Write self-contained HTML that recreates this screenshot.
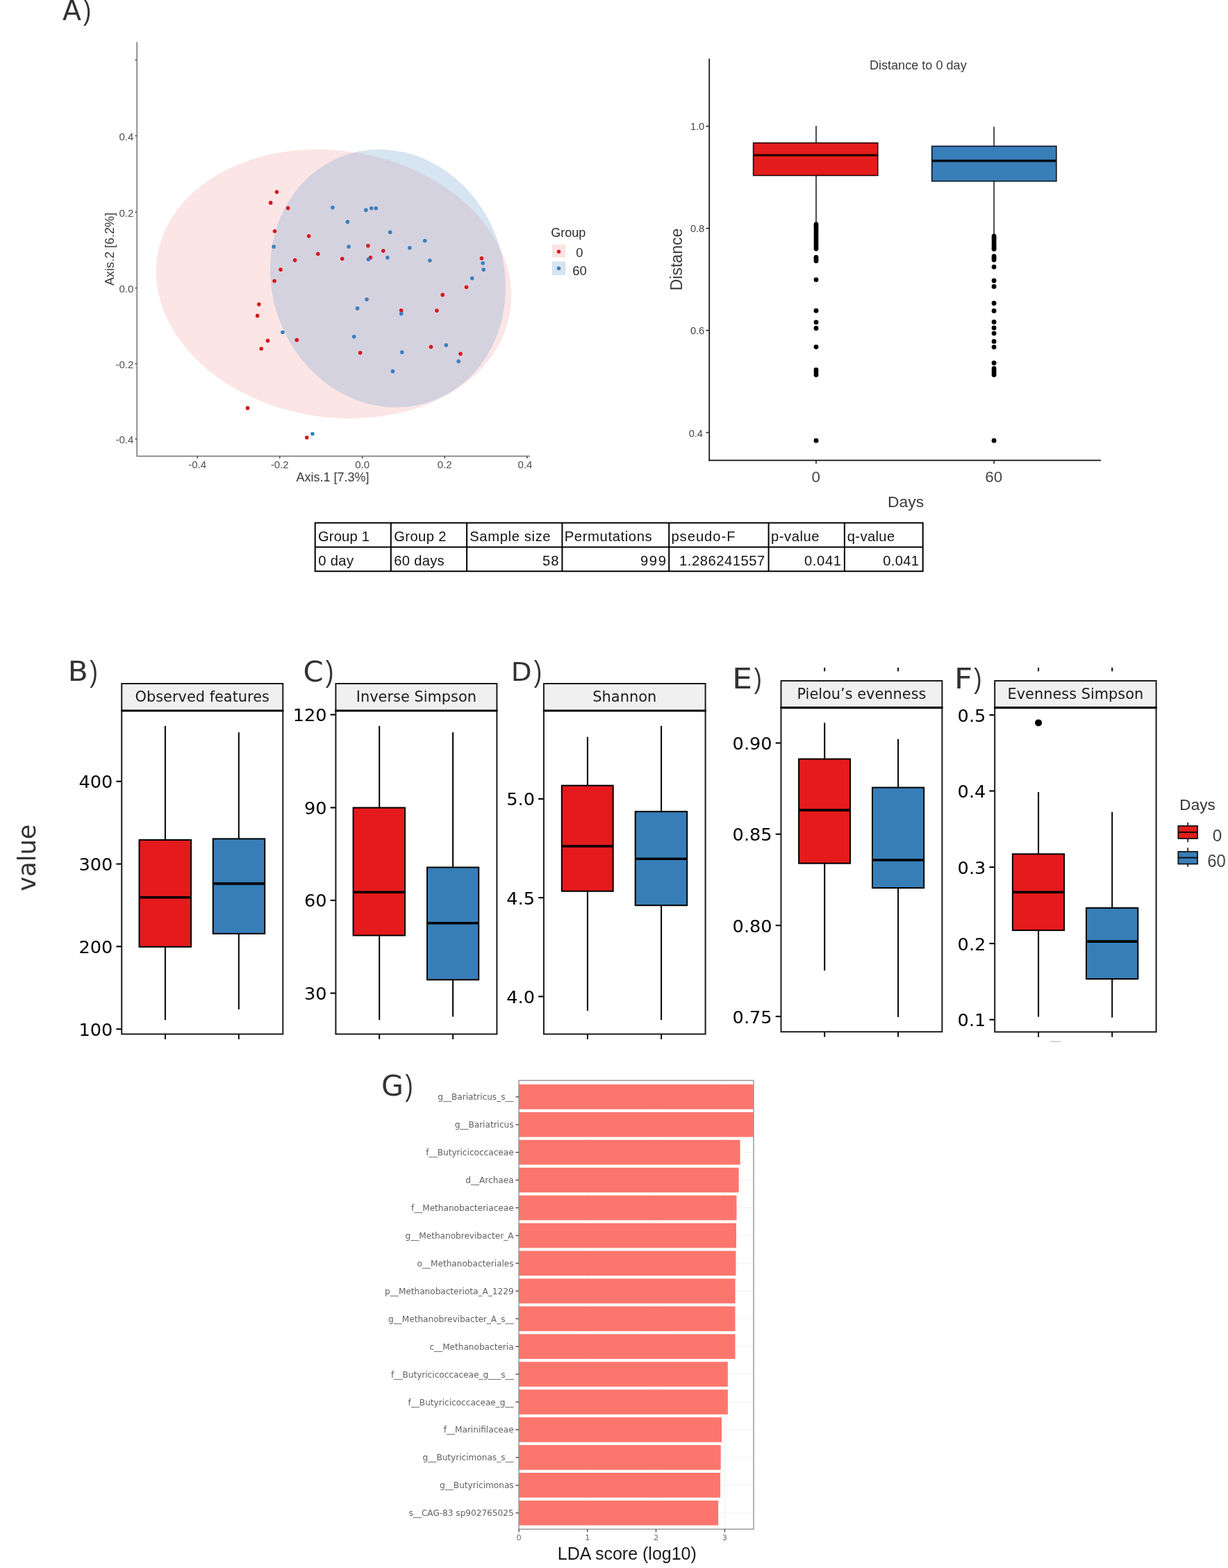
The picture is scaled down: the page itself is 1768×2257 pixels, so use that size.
<!DOCTYPE html>
<html lang="en"><head><meta charset="utf-8"><title>Figure: beta and alpha diversity, LDA scores</title>
<style>html,body{margin:0;padding:0;background:#fff}body{width:1768px;height:2257px;overflow:hidden}svg{display:block}text{font-family:"Liberation Sans",sans-serif}.l{font-family:"Liberation Sans", Arial, Helvetica, sans-serif}.d{font-family:"DejaVu Sans", "Liberation Sans", sans-serif}</style></head><body>
<svg width="1768" height="2257" viewBox="0 0 1768 2257" role="img" aria-label="Beta diversity, alpha diversity and LDA score figure">
<defs><filter id="soft" x="-5%" y="-5%" width="110%" height="110%"><feGaussianBlur stdDeviation="0.6"/></filter><filter id="soft2" x="-5%" y="-5%" width="110%" height="110%"><feGaussianBlur stdDeviation="0.35"/></filter></defs>
<rect x="0" y="0" width="1768" height="2257" fill="#fff"/>
<text fill="#333"><tspan class="d" x="90.10" y="29.40" font-size="40.55" textLength="26.95" lengthAdjust="spacingAndGlyphs">A</tspan><tspan class="l" x="120.10" y="28.88" font-size="41.07" textLength="11.31" lengthAdjust="spacingAndGlyphs">)</tspan></text>
<g id="pcoa" filter="url(#soft2)">
<ellipse cx="480.5" cy="408.7" rx="257.08" ry="191.86" transform="rotate(8.95 480.5 408.7)" fill="#e41a1c" fill-opacity="0.1"/>
<ellipse cx="558.4" cy="400.8" rx="187.75" ry="167.32" transform="rotate(71.03 558.4 400.8)" fill="#377eb8" fill-opacity="0.2"/>
<line x1="197.2" y1="60.5" x2="197.2" y2="657" stroke="#808080" stroke-width="1.7"/>
<line x1="196.4" y1="656.6" x2="763" y2="656.6" stroke="#808080" stroke-width="1.7"/>
<line x1="194.6" y1="86.3" x2="196.6" y2="86.3" stroke="#333" stroke-width="1.5"/>
<line x1="194.6" y1="195.5" x2="196.6" y2="195.5" stroke="#333" stroke-width="1.5"/>
<line x1="194.6" y1="305.4" x2="196.6" y2="305.4" stroke="#333" stroke-width="1.5"/>
<line x1="194.6" y1="414.6" x2="196.6" y2="414.6" stroke="#333" stroke-width="1.5"/>
<line x1="194.6" y1="523.6" x2="196.6" y2="523.6" stroke="#333" stroke-width="1.5"/>
<line x1="194.6" y1="632.0" x2="196.6" y2="632.0" stroke="#333" stroke-width="1.5"/>
<line x1="284.2" y1="657" x2="284.2" y2="659.8" stroke="#333" stroke-width="1.4"/>
<line x1="402.8" y1="657" x2="402.8" y2="659.8" stroke="#333" stroke-width="1.4"/>
<line x1="521.6" y1="657" x2="521.6" y2="659.8" stroke="#333" stroke-width="1.4"/>
<line x1="640.3" y1="657" x2="640.3" y2="659.8" stroke="#333" stroke-width="1.4"/>
<line x1="758.8" y1="657" x2="758.8" y2="659.8" stroke="#333" stroke-width="1.4"/>
<text class="l" x="192.3" y="201.9" font-size="15.0" fill="#4d4d4d" text-anchor="end">0.4</text>
<text class="l" x="192.3" y="311.79999999999995" font-size="15.0" fill="#4d4d4d" text-anchor="end">0.2</text>
<text class="l" x="192.3" y="421.0" font-size="15.0" fill="#4d4d4d" text-anchor="end">0.0</text>
<text class="l" x="192.3" y="530.0" font-size="15.0" fill="#4d4d4d" text-anchor="end">-0.2</text>
<text class="l" x="192.3" y="638.4" font-size="15.0" fill="#4d4d4d" text-anchor="end">-0.4</text>
<text class="l" x="284.2" y="674.2" font-size="15.0" fill="#4d4d4d" text-anchor="middle">-0.4</text>
<text class="l" x="402.8" y="674.2" font-size="15.0" fill="#4d4d4d" text-anchor="middle">-0.2</text>
<text class="l" x="521.6" y="674.2" font-size="15.0" fill="#4d4d4d" text-anchor="middle">0.0</text>
<text class="l" x="640.3" y="674.2" font-size="15.0" fill="#4d4d4d" text-anchor="middle">0.2</text>
<text class="l" x="756.0" y="674.2" font-size="15.0" fill="#4d4d4d" text-anchor="middle">0.4</text>
<text class="l" x="479" y="692.5" font-size="18" fill="#3a3a3a" text-anchor="middle">Axis.1 [7.3%]</text>
<text class="l" x="164.0" y="358.5" font-size="18" fill="#3a3a3a" text-anchor="middle" transform="rotate(-90 164.0 358.5)">Axis.2 [6.2%]</text>
<circle cx="398.5" cy="276.3" r="2.8" fill="#d7191c"/>
<circle cx="389.7" cy="291.9" r="2.8" fill="#d7191c"/>
<circle cx="414.6" cy="299.6" r="2.8" fill="#d7191c"/>
<circle cx="395.5" cy="332.8" r="2.8" fill="#d7191c"/>
<circle cx="444.7" cy="339.8" r="2.8" fill="#d7191c"/>
<circle cx="457.8" cy="365.5" r="2.8" fill="#d7191c"/>
<circle cx="424.6" cy="374.6" r="2.8" fill="#d7191c"/>
<circle cx="492.7" cy="372.5" r="2.8" fill="#d7191c"/>
<circle cx="404.1" cy="388.1" r="2.8" fill="#d7191c"/>
<circle cx="395.1" cy="404.5" r="2.8" fill="#d7191c"/>
<circle cx="529.9" cy="353.7" r="2.8" fill="#d7191c"/>
<circle cx="551.8" cy="361.1" r="2.8" fill="#d7191c"/>
<circle cx="533.4" cy="370.8" r="2.8" fill="#d7191c"/>
<circle cx="693.4" cy="371.8" r="2.8" fill="#d7191c"/>
<circle cx="671.5" cy="413.3" r="2.8" fill="#d7191c"/>
<circle cx="637.2" cy="424.4" r="2.8" fill="#d7191c"/>
<circle cx="372.8" cy="438.1" r="2.8" fill="#d7191c"/>
<circle cx="370.6" cy="454.4" r="2.8" fill="#d7191c"/>
<circle cx="385.5" cy="490.4" r="2.8" fill="#d7191c"/>
<circle cx="427.3" cy="489.4" r="2.8" fill="#d7191c"/>
<circle cx="376.2" cy="502.0" r="2.8" fill="#d7191c"/>
<circle cx="356.5" cy="587.4" r="2.8" fill="#d7191c"/>
<circle cx="441.7" cy="629.7" r="2.8" fill="#d7191c"/>
<circle cx="577.7" cy="446.9" r="2.8" fill="#d7191c"/>
<circle cx="628.9" cy="447.1" r="2.8" fill="#d7191c"/>
<circle cx="620.5" cy="499.2" r="2.8" fill="#d7191c"/>
<circle cx="518.6" cy="507.7" r="2.8" fill="#d7191c"/>
<circle cx="663.0" cy="509.2" r="2.8" fill="#d7191c"/>
<circle cx="478.9" cy="298.7" r="2.8" fill="#3a7fbd"/>
<circle cx="500.4" cy="319.4" r="2.8" fill="#3a7fbd"/>
<circle cx="394.1" cy="355.1" r="2.8" fill="#3a7fbd"/>
<circle cx="502.0" cy="355.1" r="2.8" fill="#3a7fbd"/>
<circle cx="526.9" cy="302.4" r="2.8" fill="#3a7fbd"/>
<circle cx="534.8" cy="299.8" r="2.8" fill="#3a7fbd"/>
<circle cx="541.3" cy="299.8" r="2.8" fill="#3a7fbd"/>
<circle cx="561.7" cy="334.2" r="2.8" fill="#3a7fbd"/>
<circle cx="611.7" cy="346.5" r="2.8" fill="#3a7fbd"/>
<circle cx="589.8" cy="356.7" r="2.8" fill="#3a7fbd"/>
<circle cx="557.8" cy="370.8" r="2.8" fill="#3a7fbd"/>
<circle cx="530.4" cy="373.2" r="2.8" fill="#3a7fbd"/>
<circle cx="618.9" cy="375.0" r="2.8" fill="#3a7fbd"/>
<circle cx="695.2" cy="378.8" r="2.8" fill="#3a7fbd"/>
<circle cx="696.2" cy="388.1" r="2.8" fill="#3a7fbd"/>
<circle cx="679.7" cy="400.6" r="2.8" fill="#3a7fbd"/>
<circle cx="528.0" cy="431.0" r="2.8" fill="#3a7fbd"/>
<circle cx="406.9" cy="478.2" r="2.8" fill="#3a7fbd"/>
<circle cx="449.9" cy="624.5" r="2.8" fill="#3a7fbd"/>
<circle cx="514.6" cy="443.9" r="2.8" fill="#3a7fbd"/>
<circle cx="577.7" cy="451.6" r="2.8" fill="#3a7fbd"/>
<circle cx="509.7" cy="484.6" r="2.8" fill="#3a7fbd"/>
<circle cx="642.3" cy="496.8" r="2.8" fill="#3a7fbd"/>
<circle cx="578.7" cy="507.1" r="2.8" fill="#3a7fbd"/>
<circle cx="660.2" cy="520.1" r="2.8" fill="#3a7fbd"/>
<circle cx="565.5" cy="534.4" r="2.8" fill="#3a7fbd"/>
<text class="l" x="793.2" y="341.0" font-size="18" fill="#2a2a2a" text-anchor="start">Group</text>
<rect x="794.80" y="351.90" width="19.50" height="18.60" fill="#fbe3e2" stroke="none" stroke-width="0"/>
<rect x="794.80" y="376.30" width="19.50" height="19.60" fill="#d6e4f0" stroke="none" stroke-width="0"/>
<circle cx="804.5" cy="362.3" r="2.7" fill="#d7191c"/>
<circle cx="804.5" cy="386.3" r="2.7" fill="#3a7fbd"/>
<text class="l" x="834.2" y="369.9" font-size="18.2" fill="#2a2a2a" text-anchor="middle">0</text>
<text class="l" x="834.6" y="395.9" font-size="18.4" fill="#2a2a2a" text-anchor="middle">60</text>
</g>
<g id="dist" filter="url(#soft2)">
<line x1="1021.2" y1="84.5" x2="1021.2" y2="663.5" stroke="#111" stroke-width="1.7"/>
<line x1="1020.4" y1="662.7" x2="1585" y2="662.7" stroke="#111" stroke-width="1.7"/>
<line x1="1016.5" y1="181.7" x2="1020.6" y2="181.7" stroke="#222" stroke-width="1.6"/>
<text class="l" x="1014.2" y="187.4" font-size="14.6" fill="#444" text-anchor="end">1.0</text>
<line x1="1016.5" y1="328.7" x2="1020.6" y2="328.7" stroke="#222" stroke-width="1.6"/>
<text class="l" x="1014.2" y="334.4" font-size="14.6" fill="#444" text-anchor="end">0.8</text>
<line x1="1016.5" y1="475.6" x2="1020.6" y2="475.6" stroke="#222" stroke-width="1.6"/>
<text class="l" x="1014.2" y="481.3" font-size="14.6" fill="#444" text-anchor="end">0.6</text>
<line x1="1016.5" y1="622.6" x2="1020.6" y2="622.6" stroke="#222" stroke-width="1.6"/>
<text class="l" x="1012.0" y="629.3" font-size="14.6" fill="#444" text-anchor="end">0.4</text>
<line x1="1175" y1="663.2" x2="1175" y2="667.6" stroke="#222" stroke-width="1.6"/>
<text class="l" x="1174.7" y="693.6" font-size="22.4" fill="#444" text-anchor="middle">0</text>
<line x1="1431.1" y1="663.2" x2="1431.1" y2="667.6" stroke="#222" stroke-width="1.6"/>
<text class="l" x="1430.8" y="693.6" font-size="22.4" fill="#444" text-anchor="middle">60</text>
<text class="l" x="1304.0" y="730.3" font-size="22.9" fill="#3a3a3a" text-anchor="middle">Days</text>
<text class="l" x="981.5" y="373.5" font-size="23" fill="#3a3a3a" text-anchor="middle" transform="rotate(-90 981.5 373.5)">Distance</text>
<text class="l" x="1321.8" y="100.4" font-size="18.1" fill="#3a3a3a" text-anchor="middle">Distance to 0 day</text>
<line x1="1175" y1="181.2" x2="1175" y2="325" stroke="#222" stroke-width="1.6"/>
<line x1="1431.1" y1="182.5" x2="1431.1" y2="340" stroke="#222" stroke-width="1.6"/>
<rect x="1084.60" y="205.70" width="179.20" height="46.90" fill="#e41a1c" stroke="#1a0505" stroke-width="1.5"/>
<line x1="1084.6" y1="223.3" x2="1263.8" y2="223.3" stroke="#2a0000" stroke-width="3.3"/>
<rect x="1341.70" y="210.40" width="179.20" height="50.40" fill="#377eb8" stroke="#05101a" stroke-width="1.5"/>
<line x1="1341.7" y1="231.5" x2="1520.9" y2="231.5" stroke="#030818" stroke-width="3.3"/>
<circle cx="1175" cy="323" r="3.4" fill="#000"/>
<circle cx="1175" cy="325.5" r="3.4" fill="#000"/>
<circle cx="1175" cy="328" r="3.4" fill="#000"/>
<circle cx="1175" cy="331" r="3.4" fill="#000"/>
<circle cx="1175" cy="334" r="3.4" fill="#000"/>
<circle cx="1175" cy="337" r="3.4" fill="#000"/>
<circle cx="1175" cy="340" r="3.4" fill="#000"/>
<circle cx="1175" cy="343" r="3.4" fill="#000"/>
<circle cx="1175" cy="346" r="3.4" fill="#000"/>
<circle cx="1175" cy="349" r="3.4" fill="#000"/>
<circle cx="1175" cy="352" r="3.4" fill="#000"/>
<circle cx="1175" cy="355" r="3.4" fill="#000"/>
<circle cx="1175" cy="358" r="3.4" fill="#000"/>
<circle cx="1175" cy="370.4" r="3.4" fill="#000"/>
<circle cx="1175" cy="373" r="3.4" fill="#000"/>
<circle cx="1175" cy="375.5" r="3.4" fill="#000"/>
<circle cx="1175" cy="402.6" r="3.4" fill="#000"/>
<circle cx="1175" cy="447.2" r="3.4" fill="#000"/>
<circle cx="1175" cy="463.8" r="3.4" fill="#000"/>
<circle cx="1175" cy="472.5" r="3.4" fill="#000"/>
<circle cx="1175" cy="499.3" r="3.4" fill="#000"/>
<circle cx="1175" cy="532.5" r="3.4" fill="#000"/>
<circle cx="1175" cy="536" r="3.4" fill="#000"/>
<circle cx="1175" cy="539.6" r="3.4" fill="#000"/>
<circle cx="1175" cy="634.2" r="3.4" fill="#000"/>
<circle cx="1431.1" cy="340" r="3.4" fill="#000"/>
<circle cx="1431.1" cy="342.5" r="3.4" fill="#000"/>
<circle cx="1431.1" cy="345" r="3.4" fill="#000"/>
<circle cx="1431.1" cy="348" r="3.4" fill="#000"/>
<circle cx="1431.1" cy="351" r="3.4" fill="#000"/>
<circle cx="1431.1" cy="354" r="3.4" fill="#000"/>
<circle cx="1431.1" cy="356.5" r="3.4" fill="#000"/>
<circle cx="1431.1" cy="358.4" r="3.4" fill="#000"/>
<circle cx="1431.1" cy="369" r="3.4" fill="#000"/>
<circle cx="1431.1" cy="371.5" r="3.4" fill="#000"/>
<circle cx="1431.1" cy="374" r="3.4" fill="#000"/>
<circle cx="1431.1" cy="384.2" r="3.4" fill="#000"/>
<circle cx="1431.1" cy="404" r="3.4" fill="#000"/>
<circle cx="1431.1" cy="412.4" r="3.4" fill="#000"/>
<circle cx="1431.1" cy="436.5" r="3.4" fill="#000"/>
<circle cx="1431.1" cy="447.4" r="3.4" fill="#000"/>
<circle cx="1431.1" cy="463.5" r="3.4" fill="#000"/>
<circle cx="1431.1" cy="471.9" r="3.4" fill="#000"/>
<circle cx="1431.1" cy="479.8" r="3.4" fill="#000"/>
<circle cx="1431.1" cy="491.4" r="3.4" fill="#000"/>
<circle cx="1431.1" cy="499.6" r="3.4" fill="#000"/>
<circle cx="1431.1" cy="522.5" r="3.4" fill="#000"/>
<circle cx="1431.1" cy="530.4" r="3.4" fill="#000"/>
<circle cx="1431.1" cy="533.5" r="3.4" fill="#000"/>
<circle cx="1431.1" cy="536.5" r="3.4" fill="#000"/>
<circle cx="1431.1" cy="539.6" r="3.4" fill="#000"/>
<circle cx="1431.1" cy="634.2" r="3.4" fill="#000"/>
</g>
<g id="tbl">
<rect x="453.70" y="752.60" width="875.00" height="69.70" fill="#fff" stroke="#000" stroke-width="2"/>
<line x1="453.7" y1="787.4" x2="1328.7" y2="787.4" stroke="#000" stroke-width="2"/>
<line x1="562.8" y1="752.6" x2="562.8" y2="822.3" stroke="#000" stroke-width="2"/>
<line x1="672.1" y1="752.6" x2="672.1" y2="822.3" stroke="#000" stroke-width="2"/>
<line x1="809.4" y1="752.6" x2="809.4" y2="822.3" stroke="#000" stroke-width="2"/>
<line x1="963.2" y1="752.6" x2="963.2" y2="822.3" stroke="#000" stroke-width="2"/>
<line x1="1106.6" y1="752.6" x2="1106.6" y2="822.3" stroke="#000" stroke-width="2"/>
<line x1="1215.9" y1="752.6" x2="1215.9" y2="822.3" stroke="#000" stroke-width="2"/>
<text class="l" x="457.99" y="779.2" font-size="20.2" fill="#111" textLength="73.89" lengthAdjust="spacing">Group 1</text>
<text class="l" x="567.29" y="779.2" font-size="20.2" fill="#111" textLength="75.24" lengthAdjust="spacing">Group 2</text>
<text class="l" x="676.19" y="779.2" font-size="20.2" fill="#111" textLength="116.41" lengthAdjust="spacing">Sample size</text>
<text class="l" x="812.73" y="779.2" font-size="20.2" fill="#111" textLength="125.96" lengthAdjust="spacing">Permutations</text>
<text class="l" x="966.39" y="779.2" font-size="20.2" fill="#111" textLength="92.22" lengthAdjust="spacing">pseudo-F</text>
<text class="l" x="1109.99" y="779.2" font-size="20.2" fill="#111" textLength="69.42" lengthAdjust="spacing">p-value</text>
<text class="l" x="1219.74" y="779.2" font-size="20.2" fill="#111" textLength="68.47" lengthAdjust="spacing">q-value</text>
<text class="l" x="458.19" y="813.8" font-size="20.2" fill="#111" textLength="50.84" lengthAdjust="spacing">0 day</text>
<text class="l" x="567.29" y="813.8" font-size="20.2" fill="#111" textLength="72.32" lengthAdjust="spacing">60 days</text>
<text class="l" x="780.89" y="813.8" font-size="20.2" fill="#111" textLength="23.61" lengthAdjust="spacing">58</text>
<text class="l" x="922.04" y="813.8" font-size="20.2" fill="#111" textLength="36.89" lengthAdjust="spacing">999</text>
<text class="l" x="977.99" y="813.8" font-size="20.2" fill="#111" textLength="123.27" lengthAdjust="spacing">1.286241557</text>
<text class="l" x="1157.89" y="813.8" font-size="20.2" fill="#111" textLength="53.17" lengthAdjust="spacing">0.041</text>
<text class="l" x="1271.19" y="813.8" font-size="20.2" fill="#111" textLength="51.87" lengthAdjust="spacing">0.041</text>
</g>
<text class="d" font-size="36.31" fill="#333" transform="translate(50.89 1282.86) rotate(-90) scale(0.9728 1)">value</text>
<g id="pB">
<text fill="#333"><tspan class="d" x="97.87" y="980.00" font-size="38.36" textLength="29.03" lengthAdjust="spacingAndGlyphs">B</tspan><tspan class="l" x="129.34" y="980.97" font-size="42.57" textLength="11.69" lengthAdjust="spacingAndGlyphs">)</tspan></text>
<rect x="175.20" y="1023.00" width="232.10" height="465.50" fill="#fff" stroke="#1a1a1a" stroke-width="2.0"/>
<line x1="237.9" y1="1044.9" x2="237.9" y2="1209.0" stroke="#000" stroke-width="2.0"/>
<line x1="237.9" y1="1362.8999999999999" x2="237.9" y2="1468.2" stroke="#000" stroke-width="2.0"/>
<rect x="200.50" y="1209.00" width="74.50" height="153.90" fill="#e41a1c" stroke="#000" stroke-width="2.0"/>
<line x1="200.5" y1="1291.7" x2="275.0" y2="1291.7" stroke="#000" stroke-width="3.6"/>
<line x1="343.8" y1="1054.1" x2="343.8" y2="1207.4" stroke="#000" stroke-width="2.0"/>
<line x1="343.8" y1="1343.8999999999999" x2="343.8" y2="1452.9" stroke="#000" stroke-width="2.0"/>
<rect x="306.70" y="1207.40" width="74.50" height="136.50" fill="#377eb8" stroke="#000" stroke-width="2.0"/>
<line x1="306.7" y1="1271.9" x2="381.2" y2="1271.9" stroke="#000" stroke-width="3.6"/>
<rect x="175.20" y="984.00" width="232.10" height="39.00" fill="#f0f0f0" stroke="#1a1a1a" stroke-width="2.0"/>
<line x1="174.2" y1="1023.0" x2="408.3" y2="1023.0" stroke="#0a0a0a" stroke-width="3.2"/>
<text class="d" x="291.25" y="1010.3" font-size="20.9" fill="#1a1a1a" text-anchor="middle">Observed features</text>
<line x1="167.39999999999998" y1="1124.8000000000002" x2="174.6" y2="1124.8000000000002" stroke="#000" stroke-width="2.1"/>
<text class="d" x="162.29999999999998" y="1134.2000000000003" font-size="25.6" fill="#000" text-anchor="end">400</text>
<line x1="167.39999999999998" y1="1243.6000000000001" x2="174.6" y2="1243.6000000000001" stroke="#000" stroke-width="2.1"/>
<text class="d" x="162.29999999999998" y="1253.0000000000002" font-size="25.6" fill="#000" text-anchor="end">300</text>
<line x1="167.39999999999998" y1="1362.4" x2="174.6" y2="1362.4" stroke="#000" stroke-width="2.1"/>
<text class="d" x="162.29999999999998" y="1371.8000000000002" font-size="25.6" fill="#000" text-anchor="end">200</text>
<line x1="167.39999999999998" y1="1481.3000000000002" x2="174.6" y2="1481.3000000000002" stroke="#000" stroke-width="2.1"/>
<text class="d" x="162.29999999999998" y="1490.7000000000003" font-size="25.6" fill="#000" text-anchor="end">100</text>
<line x1="237.9" y1="1489.1" x2="237.9" y2="1495.9" stroke="#000" stroke-width="1.9"/>
<line x1="343.8" y1="1489.1" x2="343.8" y2="1495.9" stroke="#000" stroke-width="1.9"/>
</g>
<g id="pC">
<text fill="#333"><tspan class="d" x="436.60" y="980.55" font-size="40.33" textLength="29.23" lengthAdjust="spacingAndGlyphs">C</tspan><tspan class="l" x="468.63" y="980.68" font-size="41.77" textLength="11.81" lengthAdjust="spacingAndGlyphs">)</tspan></text>
<rect x="483.40" y="1023.00" width="232.00" height="465.50" fill="#fff" stroke="#1a1a1a" stroke-width="2.0"/>
<line x1="546.2" y1="1044.9" x2="546.2" y2="1162.6" stroke="#000" stroke-width="2.0"/>
<line x1="546.2" y1="1346.5" x2="546.2" y2="1468.2" stroke="#000" stroke-width="2.0"/>
<rect x="508.60" y="1162.60" width="74.40" height="183.90" fill="#e41a1c" stroke="#000" stroke-width="2.0"/>
<line x1="508.6" y1="1284.2" x2="583.0" y2="1284.2" stroke="#000" stroke-width="3.6"/>
<line x1="652.1" y1="1054.1" x2="652.1" y2="1248.5" stroke="#000" stroke-width="2.0"/>
<line x1="652.1" y1="1410.3" x2="652.1" y2="1463.5" stroke="#000" stroke-width="2.0"/>
<rect x="615.00" y="1248.50" width="74.20" height="161.80" fill="#377eb8" stroke="#000" stroke-width="2.0"/>
<line x1="615.0" y1="1328.8" x2="689.1999999999999" y2="1328.8" stroke="#000" stroke-width="3.6"/>
<rect x="483.40" y="984.00" width="232.00" height="39.00" fill="#f0f0f0" stroke="#1a1a1a" stroke-width="2.0"/>
<line x1="482.4" y1="1023.0" x2="716.4" y2="1023.0" stroke="#0a0a0a" stroke-width="3.2"/>
<text class="d" x="599.4" y="1010.3" font-size="20.9" fill="#1a1a1a" text-anchor="middle">Inverse Simpson</text>
<line x1="475.59999999999997" y1="1028.7" x2="482.79999999999995" y2="1028.7" stroke="#000" stroke-width="2.1"/>
<text class="d" x="470.5" y="1038.1000000000001" font-size="25.6" fill="#000" text-anchor="end">120</text>
<line x1="475.59999999999997" y1="1162.5" x2="482.79999999999995" y2="1162.5" stroke="#000" stroke-width="2.1"/>
<text class="d" x="470.5" y="1171.9" font-size="25.6" fill="#000" text-anchor="end">90</text>
<line x1="475.59999999999997" y1="1296.0" x2="482.79999999999995" y2="1296.0" stroke="#000" stroke-width="2.1"/>
<text class="d" x="470.5" y="1305.4" font-size="25.6" fill="#000" text-anchor="end">60</text>
<line x1="475.59999999999997" y1="1429.6000000000001" x2="482.79999999999995" y2="1429.6000000000001" stroke="#000" stroke-width="2.1"/>
<text class="d" x="470.5" y="1439.0000000000002" font-size="25.6" fill="#000" text-anchor="end">30</text>
<line x1="546.2" y1="1489.1" x2="546.2" y2="1495.9" stroke="#000" stroke-width="1.9"/>
<line x1="652.1" y1="1489.1" x2="652.1" y2="1495.9" stroke="#000" stroke-width="1.9"/>
</g>
<g id="pD">
<text fill="#333"><tspan class="d" x="735.83" y="979.50" font-size="37.67" textLength="29.80" lengthAdjust="spacingAndGlyphs">D</tspan><tspan class="l" x="768.64" y="980.68" font-size="41.77" textLength="11.56" lengthAdjust="spacingAndGlyphs">)</tspan></text>
<rect x="782.90" y="1023.00" width="232.70" height="465.50" fill="#fff" stroke="#1a1a1a" stroke-width="2.0"/>
<line x1="845.9" y1="1060.7" x2="845.9" y2="1130.7" stroke="#000" stroke-width="2.0"/>
<line x1="845.9" y1="1282.8" x2="845.9" y2="1455.0" stroke="#000" stroke-width="2.0"/>
<rect x="808.80" y="1130.70" width="73.90" height="152.10" fill="#e41a1c" stroke="#000" stroke-width="2.0"/>
<line x1="808.8" y1="1218.0" x2="882.6999999999999" y2="1218.0" stroke="#000" stroke-width="3.6"/>
<line x1="952.1" y1="1044.9" x2="952.1" y2="1168.2" stroke="#000" stroke-width="2.0"/>
<line x1="952.1" y1="1303.2" x2="952.1" y2="1468.2" stroke="#000" stroke-width="2.0"/>
<rect x="914.70" y="1168.20" width="74.50" height="135.00" fill="#377eb8" stroke="#000" stroke-width="2.0"/>
<line x1="914.6999999999999" y1="1236.3" x2="989.1999999999999" y2="1236.3" stroke="#000" stroke-width="3.6"/>
<rect x="782.90" y="984.00" width="232.70" height="39.00" fill="#f0f0f0" stroke="#1a1a1a" stroke-width="2.0"/>
<line x1="781.9" y1="1023.0" x2="1016.6" y2="1023.0" stroke="#0a0a0a" stroke-width="3.2"/>
<text class="d" x="899.25" y="1010.3" font-size="20.9" fill="#1a1a1a" text-anchor="middle">Shannon</text>
<line x1="775.1" y1="1149.9" x2="782.3" y2="1149.9" stroke="#000" stroke-width="2.1"/>
<text class="d" x="770.0" y="1159.3000000000002" font-size="25.6" fill="#000" text-anchor="end">5.0</text>
<line x1="775.1" y1="1292.1000000000001" x2="782.3" y2="1292.1000000000001" stroke="#000" stroke-width="2.1"/>
<text class="d" x="770.0" y="1301.5000000000002" font-size="25.6" fill="#000" text-anchor="end">4.5</text>
<line x1="775.1" y1="1434.4" x2="782.3" y2="1434.4" stroke="#000" stroke-width="2.1"/>
<text class="d" x="770.0" y="1443.8000000000002" font-size="25.6" fill="#000" text-anchor="end">4.0</text>
<line x1="845.9" y1="1489.1" x2="845.9" y2="1495.9" stroke="#000" stroke-width="1.9"/>
<line x1="952.1" y1="1489.1" x2="952.1" y2="1495.9" stroke="#000" stroke-width="1.9"/>
</g>
<g id="pE">
<text fill="#333"><tspan class="d" x="1054.01" y="990.90" font-size="40.55" textLength="29.10" lengthAdjust="spacingAndGlyphs">E</tspan><tspan class="l" x="1085.85" y="991.08" font-size="41.07" textLength="11.06" lengthAdjust="spacingAndGlyphs">)</tspan></text>
<rect x="1124.50" y="1018.60" width="231.90" height="466.60" fill="#fff" stroke="#1a1a1a" stroke-width="2.0"/>
<line x1="1187.2" y1="1040.4" x2="1187.2" y2="1092.5" stroke="#000" stroke-width="2.0"/>
<line x1="1187.2" y1="1242.7" x2="1187.2" y2="1397.1" stroke="#000" stroke-width="2.0"/>
<rect x="1150.10" y="1092.50" width="73.90" height="150.20" fill="#e41a1c" stroke="#000" stroke-width="2.0"/>
<line x1="1150.1" y1="1166.1" x2="1224.0" y2="1166.1" stroke="#000" stroke-width="3.6"/>
<line x1="1293.1" y1="1063.8" x2="1293.1" y2="1133.6" stroke="#000" stroke-width="2.0"/>
<line x1="1293.1" y1="1278.1" x2="1293.1" y2="1464.0" stroke="#000" stroke-width="2.0"/>
<rect x="1256.00" y="1133.60" width="74.20" height="144.50" fill="#377eb8" stroke="#000" stroke-width="2.0"/>
<line x1="1256.0" y1="1238.0" x2="1330.2" y2="1238.0" stroke="#000" stroke-width="3.6"/>
<rect x="1124.50" y="980.00" width="231.90" height="38.60" fill="#f0f0f0" stroke="#1a1a1a" stroke-width="2.0"/>
<line x1="1123.5" y1="1018.6" x2="1357.4" y2="1018.6" stroke="#0a0a0a" stroke-width="3.2"/>
<text class="d" x="1240.45" y="1006.3" font-size="20.9" fill="#1a1a1a" text-anchor="middle">Pielou’s evenness</text>
<line x1="1116.7" y1="1069.5" x2="1123.9" y2="1069.5" stroke="#000" stroke-width="2.1"/>
<text class="d" x="1111.6" y="1078.9" font-size="25.6" fill="#000" text-anchor="end">0.90</text>
<line x1="1116.7" y1="1200.7" x2="1123.9" y2="1200.7" stroke="#000" stroke-width="2.1"/>
<text class="d" x="1111.6" y="1210.1000000000001" font-size="25.6" fill="#000" text-anchor="end">0.85</text>
<line x1="1116.7" y1="1332.1000000000001" x2="1123.9" y2="1332.1000000000001" stroke="#000" stroke-width="2.1"/>
<text class="d" x="1111.6" y="1341.5000000000002" font-size="25.6" fill="#000" text-anchor="end">0.80</text>
<line x1="1116.7" y1="1463.1000000000001" x2="1123.9" y2="1463.1000000000001" stroke="#000" stroke-width="2.1"/>
<text class="d" x="1111.6" y="1472.5000000000002" font-size="25.6" fill="#000" text-anchor="end">0.75</text>
<line x1="1187.2" y1="1485.8" x2="1187.2" y2="1492.6000000000001" stroke="#000" stroke-width="1.9"/>
<line x1="1187.2" y1="961.0" x2="1187.2" y2="966.3" stroke="#000" stroke-width="1.9"/>
<line x1="1293.1" y1="1485.8" x2="1293.1" y2="1492.6000000000001" stroke="#000" stroke-width="1.9"/>
<line x1="1293.1" y1="961.0" x2="1293.1" y2="966.3" stroke="#000" stroke-width="1.9"/>
</g>
<g id="pF">
<text fill="#333"><tspan class="d" x="1373.80" y="990.80" font-size="40.21" textLength="26.57" lengthAdjust="spacingAndGlyphs">F</tspan><tspan class="l" x="1402.25" y="991.08" font-size="41.07" textLength="11.31" lengthAdjust="spacingAndGlyphs">)</tspan></text>
<rect x="1432.20" y="1018.60" width="232.40" height="466.80" fill="#fff" stroke="#1a1a1a" stroke-width="2.0"/>
<line x1="1495.1" y1="1140.1" x2="1495.1" y2="1229.3" stroke="#000" stroke-width="2.0"/>
<line x1="1495.1" y1="1339.1" x2="1495.1" y2="1463.7" stroke="#000" stroke-width="2.0"/>
<rect x="1457.90" y="1229.30" width="74.20" height="109.80" fill="#e41a1c" stroke="#000" stroke-width="2.0"/>
<line x1="1457.8999999999999" y1="1284.2" x2="1532.1000000000001" y2="1284.2" stroke="#000" stroke-width="3.6"/>
<line x1="1601.2" y1="1168.8" x2="1601.2" y2="1306.9" stroke="#000" stroke-width="2.0"/>
<line x1="1601.2" y1="1409.1" x2="1601.2" y2="1464.6" stroke="#000" stroke-width="2.0"/>
<rect x="1564.00" y="1306.90" width="74.30" height="102.20" fill="#377eb8" stroke="#000" stroke-width="2.0"/>
<line x1="1564.0" y1="1355.1" x2="1638.3000000000002" y2="1355.1" stroke="#000" stroke-width="3.6"/>
<circle cx="1495.1" cy="1040.4" r="5.0" fill="#000"/>
<rect x="1432.20" y="980.00" width="232.40" height="38.60" fill="#f0f0f0" stroke="#1a1a1a" stroke-width="2.0"/>
<line x1="1431.2" y1="1018.6" x2="1665.6" y2="1018.6" stroke="#0a0a0a" stroke-width="3.2"/>
<text class="d" x="1548.4" y="1006.3" font-size="20.9" fill="#1a1a1a" text-anchor="middle">Evenness Simpson</text>
<line x1="1424.4" y1="1029.2" x2="1431.6000000000001" y2="1029.2" stroke="#000" stroke-width="2.1"/>
<text class="d" x="1419.3" y="1038.6000000000001" font-size="25.6" fill="#000" text-anchor="end">0.5</text>
<line x1="1424.4" y1="1138.5" x2="1431.6000000000001" y2="1138.5" stroke="#000" stroke-width="2.1"/>
<text class="d" x="1419.3" y="1147.9" font-size="25.6" fill="#000" text-anchor="end">0.4</text>
<line x1="1424.4" y1="1248.2" x2="1431.6000000000001" y2="1248.2" stroke="#000" stroke-width="2.1"/>
<text class="d" x="1419.3" y="1257.6000000000001" font-size="25.6" fill="#000" text-anchor="end">0.3</text>
<line x1="1424.4" y1="1358.1000000000001" x2="1431.6000000000001" y2="1358.1000000000001" stroke="#000" stroke-width="2.1"/>
<text class="d" x="1419.3" y="1367.5000000000002" font-size="25.6" fill="#000" text-anchor="end">0.2</text>
<line x1="1424.4" y1="1467.7" x2="1431.6000000000001" y2="1467.7" stroke="#000" stroke-width="2.1"/>
<text class="d" x="1419.3" y="1477.1000000000001" font-size="25.6" fill="#000" text-anchor="end">0.1</text>
<line x1="1495.1" y1="1486.0" x2="1495.1" y2="1492.8000000000002" stroke="#000" stroke-width="1.9"/>
<line x1="1495.1" y1="961.0" x2="1495.1" y2="966.3" stroke="#000" stroke-width="1.9"/>
<line x1="1601.2" y1="1486.0" x2="1601.2" y2="1492.8000000000002" stroke="#000" stroke-width="1.9"/>
<line x1="1601.2" y1="961.0" x2="1601.2" y2="966.3" stroke="#000" stroke-width="1.9"/>
</g>
<line x1="1512" y1="1499.2" x2="1527" y2="1499.2" stroke="#bbb" stroke-width="1.2"/>
<g id="leg2" filter="url(#soft2)">
<text class="l" font-size="21.90" fill="#333" transform="translate(1698.34 1166.26) scale(1.0317 1)">Days</text>
<line x1="1710.2" y1="1183.9" x2="1710.2" y2="1211.9" stroke="#111" stroke-width="1.6"/>
<rect x="1696.30" y="1188.90" width="27.80" height="18.10" fill="#e41a1c" stroke="#111" stroke-width="1.7"/>
<line x1="1696.3" y1="1197.9" x2="1724.1" y2="1197.9" stroke="#111" stroke-width="2.0"/>
<line x1="1710.2" y1="1220.3" x2="1710.2" y2="1247.7" stroke="#111" stroke-width="1.6"/>
<rect x="1696.30" y="1225.90" width="27.80" height="17.70" fill="#377eb8" stroke="#111" stroke-width="1.7"/>
<line x1="1696.3" y1="1234.6" x2="1724.1" y2="1234.6" stroke="#111" stroke-width="2.0"/>
<text class="l" font-size="23.96" fill="#444" transform="translate(1745.73 1210.51) scale(1.0140 1)">0</text>
<text class="l" font-size="25.30" fill="#444" transform="translate(1738.31 1248.05) scale(0.9432 1)">60</text>
</g>
<g id="lda">
<text fill="#333"><tspan class="d" x="549.03" y="1576.70" font-size="40.26" textLength="31.97" lengthAdjust="spacingAndGlyphs">G</tspan><tspan class="l" x="583.57" y="1576.82" font-size="41.82" textLength="11.14" lengthAdjust="spacingAndGlyphs">)</tspan></text>
<rect x="747.00" y="1555.20" width="338.00" height="645.90" fill="#fff" stroke="none" stroke-width="0"/>
<g filter="url(#soft)">
<line x1="747.0" y1="1578.8" x2="1085.0" y2="1578.8" stroke="#f2f2f2" stroke-width="1.0"/>
<line x1="747.0" y1="1618.73" x2="1085.0" y2="1618.73" stroke="#f2f2f2" stroke-width="1.0"/>
<line x1="747.0" y1="1658.6599999999999" x2="1085.0" y2="1658.6599999999999" stroke="#f2f2f2" stroke-width="1.0"/>
<line x1="747.0" y1="1698.59" x2="1085.0" y2="1698.59" stroke="#f2f2f2" stroke-width="1.0"/>
<line x1="747.0" y1="1738.52" x2="1085.0" y2="1738.52" stroke="#f2f2f2" stroke-width="1.0"/>
<line x1="747.0" y1="1778.45" x2="1085.0" y2="1778.45" stroke="#f2f2f2" stroke-width="1.0"/>
<line x1="747.0" y1="1818.3799999999999" x2="1085.0" y2="1818.3799999999999" stroke="#f2f2f2" stroke-width="1.0"/>
<line x1="747.0" y1="1858.31" x2="1085.0" y2="1858.31" stroke="#f2f2f2" stroke-width="1.0"/>
<line x1="747.0" y1="1898.24" x2="1085.0" y2="1898.24" stroke="#f2f2f2" stroke-width="1.0"/>
<line x1="747.0" y1="1938.17" x2="1085.0" y2="1938.17" stroke="#f2f2f2" stroke-width="1.0"/>
<line x1="747.0" y1="1978.1" x2="1085.0" y2="1978.1" stroke="#f2f2f2" stroke-width="1.0"/>
<line x1="747.0" y1="2018.03" x2="1085.0" y2="2018.03" stroke="#f2f2f2" stroke-width="1.0"/>
<line x1="747.0" y1="2057.96" x2="1085.0" y2="2057.96" stroke="#f2f2f2" stroke-width="1.0"/>
<line x1="747.0" y1="2097.89" x2="1085.0" y2="2097.89" stroke="#f2f2f2" stroke-width="1.0"/>
<line x1="747.0" y1="2137.8199999999997" x2="1085.0" y2="2137.8199999999997" stroke="#f2f2f2" stroke-width="1.0"/>
<line x1="747.0" y1="2177.75" x2="1085.0" y2="2177.75" stroke="#f2f2f2" stroke-width="1.0"/>
<line x1="845.8" y1="1555.2" x2="845.8" y2="2201.1" stroke="#f2f2f2" stroke-width="1.0"/>
<line x1="944.5" y1="1555.2" x2="944.5" y2="2201.1" stroke="#f2f2f2" stroke-width="1.0"/>
<line x1="1043.4" y1="1555.2" x2="1043.4" y2="2201.1" stroke="#f2f2f2" stroke-width="1.0"/>
<rect x="747.00" y="1560.95" width="338.00" height="35.70" fill="#fd766d" stroke="none" stroke-width="0"/>
<rect x="747.00" y="1600.88" width="338.00" height="35.70" fill="#fd766d" stroke="none" stroke-width="0"/>
<rect x="747.00" y="1640.81" width="318.60" height="35.70" fill="#fd766d" stroke="none" stroke-width="0"/>
<rect x="747.00" y="1680.74" width="316.60" height="35.70" fill="#fd766d" stroke="none" stroke-width="0"/>
<rect x="747.00" y="1720.67" width="313.50" height="35.70" fill="#fd766d" stroke="none" stroke-width="0"/>
<rect x="747.00" y="1760.60" width="313.00" height="35.70" fill="#fd766d" stroke="none" stroke-width="0"/>
<rect x="747.00" y="1800.53" width="312.50" height="35.70" fill="#fd766d" stroke="none" stroke-width="0"/>
<rect x="747.00" y="1840.46" width="311.60" height="35.70" fill="#fd766d" stroke="none" stroke-width="0"/>
<rect x="747.00" y="1880.39" width="311.50" height="35.70" fill="#fd766d" stroke="none" stroke-width="0"/>
<rect x="747.00" y="1920.32" width="311.50" height="35.70" fill="#fd766d" stroke="none" stroke-width="0"/>
<rect x="747.00" y="1960.25" width="300.80" height="35.70" fill="#fd766d" stroke="none" stroke-width="0"/>
<rect x="747.00" y="2000.18" width="300.90" height="35.70" fill="#fd766d" stroke="none" stroke-width="0"/>
<rect x="747.00" y="2040.11" width="292.00" height="35.70" fill="#fd766d" stroke="none" stroke-width="0"/>
<rect x="747.00" y="2080.04" width="290.70" height="35.70" fill="#fd766d" stroke="none" stroke-width="0"/>
<rect x="747.00" y="2119.97" width="290.10" height="35.70" fill="#fd766d" stroke="none" stroke-width="0"/>
<rect x="747.00" y="2159.90" width="287.10" height="35.70" fill="#fd766d" stroke="none" stroke-width="0"/>
<rect x="747.00" y="1555.20" width="338.00" height="645.90" fill="none" stroke="#939393" stroke-width="1.4"/>
<line x1="742.4" y1="1578.8" x2="747.0" y2="1578.8" stroke="#444" stroke-width="1.3"/>
<text class="d" x="739.6" y="1583.3" font-size="12.1" fill="#626262" text-anchor="end">g__Bariatricus_s__</text>
<line x1="742.4" y1="1618.73" x2="747.0" y2="1618.73" stroke="#444" stroke-width="1.3"/>
<text class="d" x="739.6" y="1623.23" font-size="12.1" fill="#626262" text-anchor="end">g__Bariatricus</text>
<line x1="742.4" y1="1658.6599999999999" x2="747.0" y2="1658.6599999999999" stroke="#444" stroke-width="1.3"/>
<text class="d" x="739.6" y="1663.1599999999999" font-size="12.1" fill="#626262" text-anchor="end">f__Butyricicoccaceae</text>
<line x1="742.4" y1="1698.59" x2="747.0" y2="1698.59" stroke="#444" stroke-width="1.3"/>
<text class="d" x="739.6" y="1703.09" font-size="12.1" fill="#626262" text-anchor="end">d__Archaea</text>
<line x1="742.4" y1="1738.52" x2="747.0" y2="1738.52" stroke="#444" stroke-width="1.3"/>
<text class="d" x="739.6" y="1743.02" font-size="12.1" fill="#626262" text-anchor="end">f__Methanobacteriaceae</text>
<line x1="742.4" y1="1778.45" x2="747.0" y2="1778.45" stroke="#444" stroke-width="1.3"/>
<text class="d" x="739.6" y="1782.95" font-size="12.1" fill="#626262" text-anchor="end">g__Methanobrevibacter_A</text>
<line x1="742.4" y1="1818.3799999999999" x2="747.0" y2="1818.3799999999999" stroke="#444" stroke-width="1.3"/>
<text class="d" x="739.6" y="1822.8799999999999" font-size="12.1" fill="#626262" text-anchor="end">o__Methanobacteriales</text>
<line x1="742.4" y1="1858.31" x2="747.0" y2="1858.31" stroke="#444" stroke-width="1.3"/>
<text class="d" x="739.6" y="1862.81" font-size="12.1" fill="#626262" text-anchor="end">p__Methanobacteriota_A_1229</text>
<line x1="742.4" y1="1898.24" x2="747.0" y2="1898.24" stroke="#444" stroke-width="1.3"/>
<text class="d" x="739.6" y="1902.74" font-size="12.1" fill="#626262" text-anchor="end">g__Methanobrevibacter_A_s__</text>
<line x1="742.4" y1="1938.17" x2="747.0" y2="1938.17" stroke="#444" stroke-width="1.3"/>
<text class="d" x="739.6" y="1942.67" font-size="12.1" fill="#626262" text-anchor="end">c__Methanobacteria</text>
<line x1="742.4" y1="1978.1" x2="747.0" y2="1978.1" stroke="#444" stroke-width="1.3"/>
<text class="d" x="739.6" y="1982.6" font-size="12.1" fill="#626262" text-anchor="end">f__Butyricicoccaceae_g___s__</text>
<line x1="742.4" y1="2018.03" x2="747.0" y2="2018.03" stroke="#444" stroke-width="1.3"/>
<text class="d" x="739.6" y="2022.53" font-size="12.1" fill="#626262" text-anchor="end">f__Butyricicoccaceae_g__</text>
<line x1="742.4" y1="2057.96" x2="747.0" y2="2057.96" stroke="#444" stroke-width="1.3"/>
<text class="d" x="739.6" y="2062.46" font-size="12.1" fill="#626262" text-anchor="end">f__Marinifilaceae</text>
<line x1="742.4" y1="2097.89" x2="747.0" y2="2097.89" stroke="#444" stroke-width="1.3"/>
<text class="d" x="739.6" y="2102.39" font-size="12.1" fill="#626262" text-anchor="end">g__Butyricimonas_s__</text>
<line x1="742.4" y1="2137.8199999999997" x2="747.0" y2="2137.8199999999997" stroke="#444" stroke-width="1.3"/>
<text class="d" x="739.6" y="2142.3199999999997" font-size="12.1" fill="#626262" text-anchor="end">g__Butyricimonas</text>
<line x1="742.4" y1="2177.75" x2="747.0" y2="2177.75" stroke="#444" stroke-width="1.3"/>
<text class="d" x="739.6" y="2182.25" font-size="12.1" fill="#626262" text-anchor="end">s__CAG-83 sp902765025</text>
<line x1="747.1" y1="2201.1" x2="747.1" y2="2205.2999999999997" stroke="#444" stroke-width="1.3"/>
<text class="d" x="747.1" y="2216.8" font-size="11.2" fill="#6a6a6a" text-anchor="middle">0</text>
<line x1="845.8" y1="2201.1" x2="845.8" y2="2205.2999999999997" stroke="#444" stroke-width="1.3"/>
<text class="d" x="845.8" y="2216.8" font-size="11.2" fill="#6a6a6a" text-anchor="middle">1</text>
<line x1="944.5" y1="2201.1" x2="944.5" y2="2205.2999999999997" stroke="#444" stroke-width="1.3"/>
<text class="d" x="944.5" y="2216.8" font-size="11.2" fill="#6a6a6a" text-anchor="middle">2</text>
<line x1="1043.4" y1="2201.1" x2="1043.4" y2="2205.2999999999997" stroke="#444" stroke-width="1.3"/>
<text class="d" x="1043.4" y="2216.8" font-size="11.2" fill="#6a6a6a" text-anchor="middle">3</text>
</g>
<text class="l" x="902.8" y="2245.2" font-size="25.0" fill="#1a1a1a" text-anchor="middle">LDA score (log10)</text>
</g>
</svg></body></html>
